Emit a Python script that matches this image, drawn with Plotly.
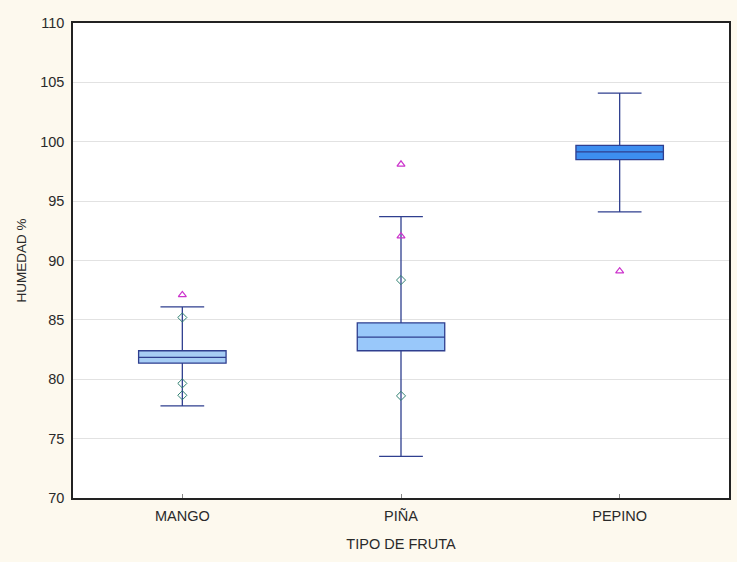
import plotly.graph_objects as go

# Box summary per fruit type (moisture %)
fruits = ["MANGO", "PIÑA", "PEPINO"]
q1 = [81.35, 82.4, 98.5]
median = [81.85, 83.55, 99.15]
q3 = [82.4, 84.75, 99.7]
lower_whisker = [77.75, 73.5, 94.1]
upper_whisker = [86.1, 93.7, 104.1]
box_fill = ["#a6cdf5", "#99c8fa", "#3d8ef0"]

# Outliers (diamonds) and extremes (triangles)
outlier_x = ["MANGO", "MANGO", "MANGO", "PIÑA", "PIÑA"]
outlier_y = [85.2, 79.65, 78.65, 88.35, 78.6]
extreme_x = ["MANGO", "PIÑA", "PIÑA", "PEPINO"]
extreme_y = [87.1, 98.1, 92.05, 89.1]

y_ticks = [70, 75, 80, 85, 90, 95, 100, 105, 110]

fig = go.Figure()

for i, name in enumerate(fruits):
    fig.add_trace(go.Box(
        x=[name],
        q1=[q1[i]], median=[median[i]], q3=[q3[i]],
        lowerfence=[lower_whisker[i]], upperfence=[upper_whisker[i]],
        fillcolor=box_fill[i],
        line=dict(color="#2f3f8f", width=1.3),
        width=0.4,
        whiskerwidth=0.5,
        boxpoints=False,
        showlegend=False,
        hoverinfo="skip",
    ))

fig.add_trace(go.Scatter(
    x=outlier_x, y=outlier_y, mode="markers",
    marker=dict(symbol="diamond-open", size=7, color="#2e7f70", line=dict(width=1)),
    showlegend=False,
))
fig.add_trace(go.Scatter(
    x=extreme_x, y=extreme_y, mode="markers",
    marker=dict(symbol="triangle-up-open", size=7, color="#cc33cc", line=dict(width=1.2)),
    showlegend=False,
))

font_family = "Liberation Sans, Arial, sans-serif"

fig.update_layout(
    width=737, height=562,
    margin=dict(l=73, r=6, t=23, b=64),
    paper_bgcolor="#fdf9ee",
    plot_bgcolor="#ffffff",
    boxmode="overlay",
    font=dict(family=font_family, size=14, color="#2a2a2a"),
    xaxis=dict(
        type="category",
        categoryorder="array", categoryarray=fruits,
        range=[-0.5, 2.5],
        showline=True, linecolor="#222222", linewidth=1.5, mirror=True,
        ticks="inside", ticklen=4, tickcolor="#888888",
        ticklabelstandoff=4,
        showgrid=False,
        title=dict(text="TIPO DE FRUTA", font=dict(size=14.5), standoff=16),
        tickfont=dict(size=14.5),
    ),
    yaxis=dict(
        range=[70, 110],
        tickvals=y_ticks,
        showline=True, linecolor="#222222", linewidth=1.5, mirror=True,
        showgrid=True, gridcolor="#e2e2e2", gridwidth=1,
        zeroline=False,
        ticks="", ticklabelstandoff=4,
        title=dict(text="HUMEDAD %", font=dict(size=13.5), standoff=10),
        tickfont=dict(size=14.5),
    ),
)

fig.write_html("out.html")
